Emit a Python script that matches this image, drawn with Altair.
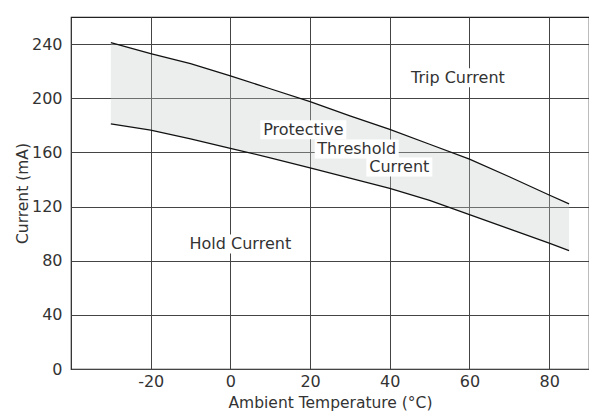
import altair as alt
import pandas as pd

# Ambient temperature (°C) and current (mA)
temps = [-30, -20, -10, 0, 10, 20, 30, 40, 50, 60, 70, 80, 85]
trip_current = [241, 233, 225.5, 216.5, 207, 197.5, 187, 177, 166, 155, 142, 128.5, 122]
hold_current = [181, 176.5, 170, 163, 156, 148.5, 141, 133.5, 124.5, 114, 103.5, 93, 87.5]

label_text = ["Trip Current", "Protective", "Threshold", "Current", "Hold Current"]
label_temp = [57.1, 18.3, 31.7, 42.4, 2.5]
label_curr = [215.2, 176.8, 162.5, 149.2, 92.3]
label_box_w = [100, 86, 84, 66, 104]

x_ticks = [-20, 0, 20, 40, 60, 80]
y_ticks = [0, 40, 80, 120, 160, 200, 240]

FONT = "DejaVu Sans"
TXT = "#333333"
GRID = "#444444"

df = pd.DataFrame({"t": temps, "trip": trip_current, "hold": hold_current})
lab = pd.DataFrame({"text": label_text, "t": label_temp, "c": label_curr, "w": label_box_w})

xscale = alt.Scale(domain=[-40, 90], nice=False, zero=False)
yscale = alt.Scale(domain=[0, 260], nice=False)

xaxis = alt.Axis(values=x_ticks, title="Ambient Temperature (°C)", grid=True,
                 ticks=False, tickSize=0, labelPadding=4, titlePadding=6,
                 domain=False,
                 labelExpr="datum.value < 0 ? '-' + abs(datum.value) : '' + datum.value")
yaxis = alt.Axis(values=y_ticks, title="Current (mA)", grid=True,
                 ticks=False, tickSize=0, labelPadding=9, titlePadding=1,
                 domain=False)

area = alt.Chart(df).mark_area(color="#c4caca", opacity=0.32).encode(
    x=alt.X("t:Q", scale=xscale, axis=xaxis),
    y=alt.Y("hold:Q", scale=yscale, axis=yaxis),
    y2="trip:Q",
)

line_trip = alt.Chart(df).mark_line(color="#111111", strokeWidth=1.3).encode(
    x=alt.X("t:Q", scale=xscale), y=alt.Y("trip:Q", scale=yscale)
)
line_hold = alt.Chart(df).mark_line(color="#111111", strokeWidth=1.3).encode(
    x=alt.X("t:Q", scale=xscale), y=alt.Y("hold:Q", scale=yscale)
)

layers = [area, line_trip, line_hold]
for i in range(len(label_text)):
    sub = lab.iloc[[i]]
    layers.append(
        alt.Chart(sub).mark_rect(color="white", width=int(label_box_w[i]), height=19).encode(
            x=alt.X("t:Q", scale=xscale), y=alt.Y("c:Q", scale=yscale)
        )
    )

texts = alt.Chart(lab).mark_text(font=FONT, fontSize=16, color=TXT, baseline="middle", align="center").encode(
    x=alt.X("t:Q", scale=xscale), y=alt.Y("c:Q", scale=yscale), text="text:N"
)
layers.append(texts)

chart = alt.layer(*layers).properties(
    width=518, height=352,
    autosize=alt.AutoSizeParams(type="none"),
    padding={"left": 63, "top": 9, "right": 0, "bottom": 44},
).configure_axis(
    labelFont=FONT, titleFont=FONT, labelFontSize=16, titleFontSize=15.5,
    labelColor=TXT, titleColor=TXT, titleFontWeight="normal",
    gridColor=GRID, gridWidth=1, gridOpacity=1,
).configure_view(stroke="#222222", strokeWidth=1.2)

chart.save("out.html", embed_options={"renderer": "svg", "actions": False})
